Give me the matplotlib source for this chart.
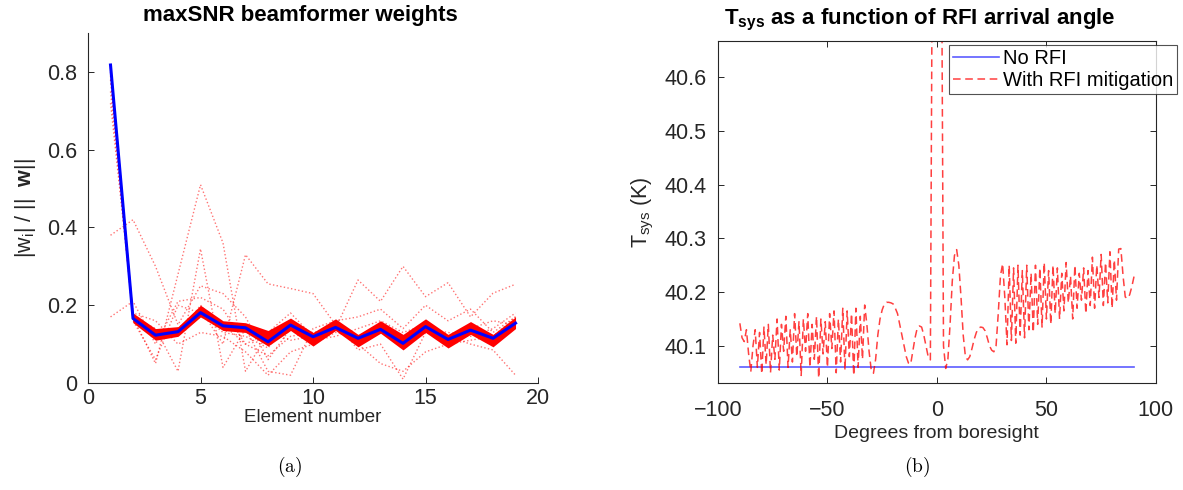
import numpy as np
import matplotlib.pyplot as plt

plt.rcParams['font.family'] = ['Liberation Sans', 'DejaVu Sans']
plt.rcParams['mathtext.fontset'] = 'custom'
plt.rcParams['mathtext.rm'] = 'Liberation Sans'
plt.rcParams['mathtext.bf'] = 'Liberation Sans:bold'
plt.rcParams['mathtext.it'] = 'Liberation Sans:italic'

# ==============================
# (a) beamformer weight magnitudes
# ==============================
elements = np.arange(1, 20)
w_mean = [0.818, 0.166, 0.123, 0.132, 0.181, 0.147, 0.142, 0.106, 0.149, 0.119,
          0.143, 0.115, 0.138, 0.102, 0.145, 0.112, 0.136, 0.115, 0.154]
# spread of the bulk of the trials
w_upper = [0.822, 0.180, 0.140, 0.145, 0.200, 0.160, 0.155, 0.135, 0.167, 0.130,
           0.165, 0.125, 0.160, 0.125, 0.165, 0.125, 0.158, 0.125, 0.170]
w_lower = [0.800, 0.155, 0.110, 0.120, 0.170, 0.135, 0.130, 0.095, 0.135, 0.095,
           0.135, 0.093, 0.128, 0.085, 0.130, 0.090, 0.125, 0.093, 0.140]
# stray trials
trial_a = [0.80, 0.17, 0.05, 0.28, 0.51, 0.36, 0.03, 0.13, 0.11, 0.12,
           0.14, 0.12, 0.13, 0.11, 0.14, 0.11, 0.13, 0.12, 0.15]
trial_b = [0.78, 0.17, 0.14, 0.03, 0.345, 0.04, 0.14, 0.10, 0.15, 0.12,
           0.14, 0.11, 0.14, 0.10, 0.14, 0.11, 0.14, 0.11, 0.15]
trial_c = [0.38, 0.42, 0.30, 0.15, 0.25, 0.23, 0.17, 0.06, 0.14, 0.10,
           0.15, 0.12, 0.14, 0.09, 0.15, 0.12, 0.13, 0.12, 0.16]
trial_d = [0.17, 0.21, 0.10, 0.21, 0.22, 0.19, 0.10, 0.13, 0.18, 0.12,
           0.16, 0.17, 0.19, 0.14, 0.20, 0.16, 0.19, 0.13, 0.17]
trial_e = [0.72, 0.18, 0.16, 0.10, 0.13, 0.12, 0.08, 0.02, 0.08, 0.10,
           0.13, 0.12, 0.15, 0.10, 0.14, 0.13, 0.12, 0.14, 0.18]
trial_f = [0.75, 0.17, 0.13, 0.14, 0.19, 0.10, 0.33, 0.255, 0.243, 0.23,
           0.15, 0.10, 0.05, 0.03, 0.08, 0.10, 0.11, 0.12, 0.17]
trial_g = [0.81, 0.16, 0.12, 0.14, 0.17, 0.15, 0.10, 0.07, 0.12, 0.13,
           0.14, 0.265, 0.21, 0.30, 0.222, 0.258, 0.17, 0.231, 0.254]
trial_h = [0.82, 0.17, 0.13, 0.12, 0.20, 0.14, 0.14, 0.03, 0.02, 0.14,
           0.16, 0.085, 0.10, 0.01, 0.13, 0.12, 0.10, 0.085, 0.02]
trial_i = [0.79, 0.16, 0.06, 0.20, 0.18, 0.13, 0.12, 0.09, 0.16, 0.11,
           0.12, 0.14, 0.16, 0.13, 0.15, 0.11, 0.14, 0.16, 0.15]
trials = [trial_a, trial_b, trial_c, trial_d, trial_e, trial_f, trial_g, trial_h, trial_i]

# ==============================
# (b) system temperature vs RFI angle
# ==============================
angles = np.arange(-90, 91)
tsys_no_rfi = 40.0616
tsys_rfi = [
    40.142, 40.115, 40.108, 40.130, 40.085, 40.052, 40.100, 40.130, 40.060, 40.125,
    40.048, 40.135, 40.065, 40.140, 40.050, 40.120, 40.075, 40.150, 40.055, 40.140,
    40.090, 40.155, 40.060, 40.130, 40.070, 40.160, 40.080, 40.145, 40.045, 40.150,
    40.090, 40.160, 40.060, 40.140, 40.075, 40.155, 40.040, 40.150, 40.085, 40.145,
    40.060, 40.160, 40.095, 40.165, 40.050, 40.150, 40.070, 40.170, 40.055, 40.165,
    40.080, 40.160, 40.045, 40.170, 40.060, 40.155, 40.075, 40.176, 40.140, 40.090,
    40.055, 40.049, 40.075, 40.120, 40.150, 40.167, 40.178, 40.181, 40.181, 40.180,
    40.178, 40.170, 40.160, 40.140, 40.120, 40.100, 40.080, 40.068, 40.066, 40.090,
    40.115, 40.133, 40.137, 40.135, 40.120, 40.100, 40.080, 40.074, 40.950, 41.600,
    41.900, 41.600, 40.950, 40.100, 40.058, 40.075, 40.140, 40.220, 40.268, 40.279,
    40.250, 40.190, 40.120, 40.080, 40.074, 40.080, 40.095, 40.112, 40.125, 40.133,
    40.135, 40.134, 40.128, 40.115, 40.100, 40.092, 40.089, 40.100, 40.160, 40.230,
    40.253, 40.190, 40.102, 40.250, 40.110, 40.245, 40.105, 40.250, 40.120, 40.240,
    40.115, 40.250, 40.130, 40.235, 40.125, 40.250, 40.140, 40.245, 40.135, 40.255,
    40.150, 40.240, 40.140, 40.250, 40.160, 40.245, 40.150, 40.235, 40.165, 40.255,
    40.180, 40.230, 40.150, 40.250, 40.170, 40.235, 40.185, 40.245, 40.160, 40.240,
    40.175, 40.265, 40.170, 40.250, 40.190, 40.270, 40.175, 40.255, 40.180, 40.275,
    40.170, 40.260, 40.185, 40.280, 40.281, 40.230, 40.191, 40.188, 40.195, 40.210,
    40.229,
]

fig = plt.figure(figsize=(11.83, 4.9), dpi=100)
ax1 = fig.add_axes([0.0744, 0.2184, 0.3804, 0.714])
ax2 = fig.add_axes([0.6069, 0.2184, 0.3702, 0.698])

dark = '#262626'
fs = 15.5

# --- left panel ---
for t in trials:
    ax1.plot(elements, t, ':', color='red', lw=1.0, alpha=0.55)
ax1.fill_between(elements, w_lower, w_upper, color='red', lw=0)
ax1.plot(elements, w_mean, color='blue', lw=2.2)

ax1.set_xlim(0, 20)
ax1.set_ylim(0, 0.9)
ax1.set_xticks([0, 5, 10, 15, 20])
ax1.set_yticks([0, 0.2, 0.4, 0.6, 0.8])
ax1.set_yticklabels(['0', '0.2', '0.4', '0.6', '0.8'])
ax1.spines['top'].set_visible(False)
ax1.spines['right'].set_visible(False)
ax1.set_title('maxSNR beamformer weights', fontsize=16, fontweight='bold',
              x=0.473, pad=9)
ax1.set_xlabel('Element number', fontsize=13.5, color=dark, labelpad=0)
ax1.set_ylabel(r'$|\mathrm{w}_{\mathrm{i}}|\ /\ ||\ \ \mathbf{w}||$', fontsize=fs, color=dark, labelpad=6)

# --- right panel ---
ax2.plot(angles, np.full(len(angles), tsys_no_rfi), color='#5c5cff', lw=1.2, label='No RFI')
ax2.plot(angles, tsys_rfi, color='red', lw=1.1, alpha=0.75, dashes=(5, 3),
         label='With RFI mitigation')

ax2.set_xlim(-100, 100)
ax2.set_ylim(40.031, 40.667)
ax2.set_xticks([-100, -50, 0, 50, 100])
ax2.set_yticks([40.1, 40.2, 40.3, 40.4, 40.5, 40.6])
ax2.set_title(r'$\mathbf{T_{sys}}$ as a function of RFI arrival angle',
              fontsize=16, fontweight='bold', x=0.461, pad=12)
ax2.set_xlabel('Degrees from boresight', fontsize=14, color=dark, labelpad=3)
ax2.set_ylabel(r'$\mathrm{T_{sys}}$ (K)', fontsize=fs, color=dark, labelpad=6)
ax2.tick_params(top=True, right=True)

leg = ax2.legend(loc='upper left', bbox_to_anchor=(0.527, 0.988), borderaxespad=0,
                 fontsize=14.5, frameon=True, fancybox=False, handlelength=2.3,
                 handletextpad=0.2, labelspacing=0.15, borderpad=0.2)
leg.get_frame().set_edgecolor(dark)
leg.get_frame().set_linewidth(0.8)

for ax in (ax1, ax2):
    ax.tick_params(direction='in', length=4, width=0.7, labelsize=fs, colors=dark)
    ax.tick_params(axis='y', pad=8)
    for s in ax.spines.values():
        s.set_color(dark)
        s.set_linewidth(0.8)
ax2.tick_params(axis='x', pad=12)

fig.text(0.245, 0.047, r'$\mathrm{(a)}$', fontsize=14, math_fontfamily='cm', ha='center', va='center')
fig.text(0.775, 0.047, r'$\mathrm{(b)}$', fontsize=14, math_fontfamily='cm', ha='center', va='center')

fig.savefig('out.png', dpi=100)
